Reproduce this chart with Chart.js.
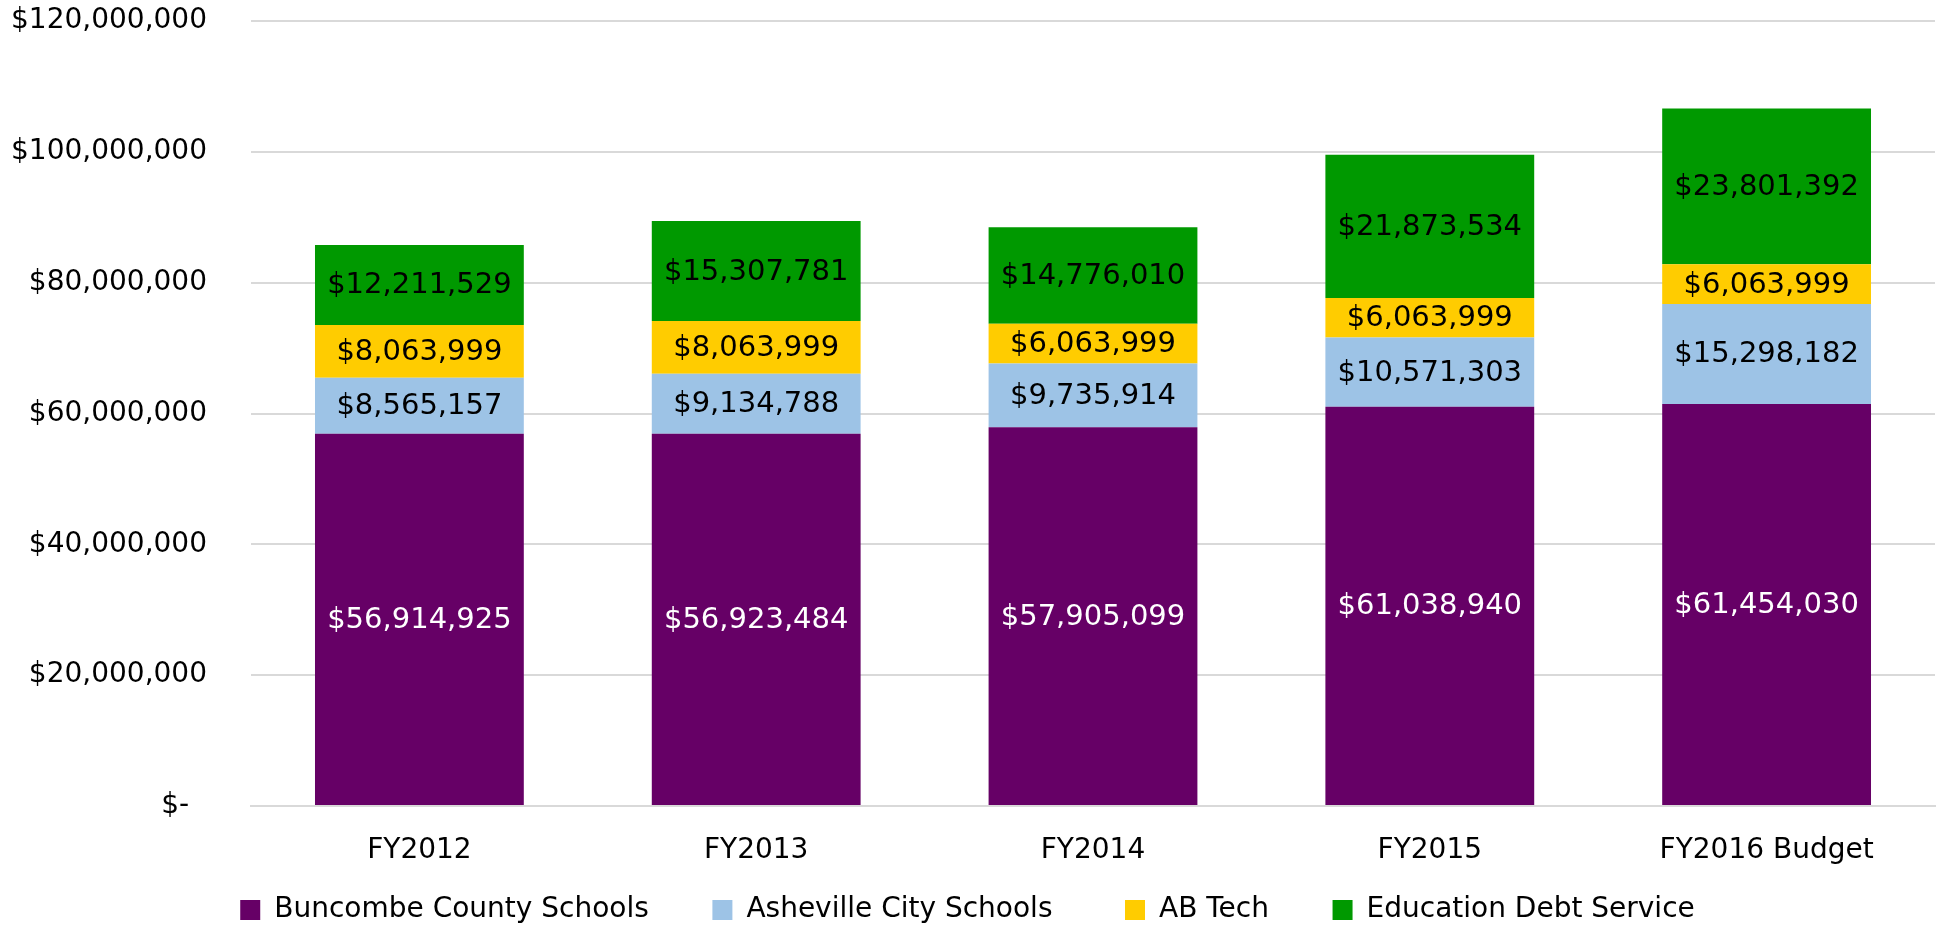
<!DOCTYPE html>
<html>
<head>
<meta charset="utf-8">
<script src="https://cdn.jsdelivr.net/npm/chart.js@4/dist/chart.umd.min.js"></script>
<style>
  html, body { margin: 0; padding: 0; background: #fff; }
  #wrap { width: 1936px; height: 934px; position: relative; }
</style>
</head>
<body>
<div id="wrap"><canvas id="c" width="1936" height="934"></canvas></div>
<script>
const categories = ['FY2012', 'FY2013', 'FY2014', 'FY2015', 'FY2016 Budget'];
const buncombe = [56914925, 56923484, 57905099, 61038940, 61454030];
const asheville = [8565157, 9134788, 9735914, 10571303, 15298182];
const abTech = [8063999, 8063999, 6063999, 6063999, 6063999];
const debtService = [12211529, 15307781, 14776010, 21873534, 23801392];
const seriesNames = ['Buncombe County Schools', 'Asheville City Schools', 'AB Tech', 'Education Debt Service'];
const yTickLabels = ['$-  ', '$20,000,000', '$40,000,000', '$60,000,000', '$80,000,000', '$100,000,000', '$120,000,000'];

const FONT = '"DejaVu Sans", sans-serif';

const fmt = v => '$' + v.toLocaleString('en-US');

const labelPlugin = {
  id: 'segLabels',
  afterDatasetsDraw(chart) {
    const ctx = chart.ctx;
    ctx.save();
    ctx.font = '29px ' + FONT;
    ctx.textAlign = 'center';
    ctx.textBaseline = 'middle';
    chart.data.datasets.forEach((ds, di) => {
      const meta = chart.getDatasetMeta(di);
      meta.data.forEach((bar, i) => {
        const p = bar.getProps(['x', 'y', 'base'], true);
        ctx.fillStyle = ds.labelColor;
        ctx.fillText(fmt(ds.data[i]), p.x, (p.y + p.base) / 2 + 1);
      });
    });
    ctx.restore();
  }
};

const defaultGen = Chart.defaults.plugins.legend.labels.generateLabels;
const legendTrail = ['    ', '     ', '    ', ''];

new Chart(document.getElementById('c'), {
  type: 'bar',
  data: {
    labels: categories,
    datasets: [
      { label: seriesNames[0], data: buncombe, backgroundColor: '#660066', labelColor: '#ffffff' },
      { label: seriesNames[1], data: asheville, backgroundColor: '#9DC3E6', labelColor: '#000000' },
      { label: seriesNames[2], data: abTech, backgroundColor: '#FFCC00', labelColor: '#000000' },
      { label: seriesNames[3], data: debtService, backgroundColor: '#009900', labelColor: '#000000' }
    ]
  },
  options: {
    responsive: false,
    animation: false,
    devicePixelRatio: 1,
    layout: { padding: { top: 21, right: 1, left: 0, bottom: 0 } },
    datasets: { bar: { categoryPercentage: 1.0, barPercentage: 0.62 } },
    plugins: {
      tooltip: { enabled: false },
      legend: {
        position: 'bottom',
        labels: {
          font: { family: FONT, size: 28 },
          color: '#000',
          boxWidth: 20,
          boxHeight: 20,
          padding: 28,
          generateLabels(chart) {
            const items = defaultGen(chart);
            items.forEach((it, i) => {
              it.lineWidth = 0;
              it.text = it.text + legendTrail[i];
            });
            return items;
          }
        }
      }
    },
    scales: {
      x: {
        stacked: true,
        grid: { display: false, drawTicks: false },
        border: { display: true, color: '#d9d9d9', width: 2 },
        ticks: { font: { family: FONT, size: 28 }, color: '#000', padding: 28, maxRotation: 0 },
        afterFit(scale) { scale.height = 62; }
      },
      y: {
        stacked: true,
        min: 0,
        max: 120000000,
        grid: { color: '#d9d9d9', lineWidth: 2, drawTicks: false },
        border: { display: false },
        ticks: {
          stepSize: 20000000,
          font: { family: FONT, size: 28 },
          color: '#000',
          padding: 44,
          callback: (v, i) => yTickLabels[i]
        },
        afterFit(scale) {
          scale.width = 251;
          scale.paddingTop = 0;
          scale.paddingBottom = 0;
        }
      }
    }
  },
  plugins: [labelPlugin]
});
</script>
</body>
</html>
